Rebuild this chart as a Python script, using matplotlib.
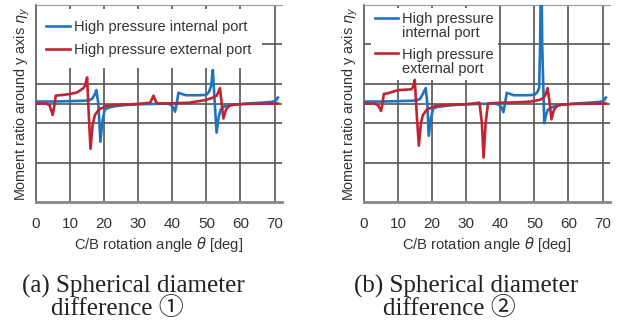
"""Moment ratio around y axis vs. C/B rotation angle, two spherical diameter differences."""

import matplotlib

matplotlib.use("Agg")
import matplotlib.pyplot as plt
from matplotlib.lines import Line2D

# (a) spherical diameter difference 1
a_int_x = [0, 5, 10, 14, 15.5, 16.5, 17.2, 17.7, 18.3, 18.9, 19.5, 20.2, 21.5, 23, 26, 30, 35,
           38.5, 39.5, 40.3, 40.8, 41.3, 41.8, 44, 48, 50, 50.8, 51.4, 51.9, 52.4, 53.0, 53.6,
           54.2, 55.1, 56.5, 58, 62, 66, 69, 70.3, 71]
a_int_y = [0.05, 0.05, 0.06, 0.07, 0.08, 0.12, 0.22, 0.34, 0.0, -0.97, -0.45, -0.15, -0.1,
           -0.07, -0.04, -0.02, -0.01, 0.0, -0.03, -0.1, -0.21, 0.0, 0.27, 0.21, 0.21, 0.22,
           0.3, 0.45, 0.85, 0.1, -0.74, -0.35, -0.15, -0.08, -0.05, -0.03, 0.0, 0.02, 0.04,
           0.06, 0.15]
a_ext_x = [0, 3, 4, 4.9, 5.4, 5.8, 7, 10, 12, 13.8, 14.4, 15.0, 15.5, 16.0, 16.6, 17.3, 18.5,
           20.7, 23, 26, 30, 33.5, 34.5, 35.2, 35.7, 38, 45, 49.9, 51.9, 53.0, 53.5, 54.0,
           54.5, 55.0, 55.8, 56.7, 58, 62, 71]
a_ext_y = [0.0, 0.0, -0.05, -0.29, -0.05, 0.2, 0.21, 0.24, 0.28, 0.38, 0.45, 0.66, -0.3,
           -1.15, -0.55, -0.29, -0.15, -0.06, -0.04, -0.03, -0.01, 0.02, 0.2, 0.05, 0.0, 0.0,
           0.02, 0.09, 0.15, 0.2, 0.28, 0.39, 0.0, -0.38, -0.15, -0.06, -0.03, -0.01, 0.0]

# (b) spherical diameter difference 2
b_int_x = [0, 5, 10, 14, 15.5, 16.5, 17.3, 18.1, 18.6, 19.0, 19.6, 20.3, 21.5, 23, 26, 30, 35,
           38.5, 39.5, 40.4, 40.9, 41.4, 41.9, 44, 48, 50, 50.8, 51.4, 51.7, 52.0, 52.3, 52.9,
           53.4, 53.9, 55, 56.3, 58, 62, 66, 69, 70.3, 71]
b_int_y = [0.05, 0.05, 0.06, 0.07, 0.08, 0.12, 0.25, 0.39, 0.0, -0.82, -0.4, -0.12, -0.09,
           -0.07, -0.04, -0.02, -0.01, 0.0, -0.03, -0.1, -0.22, 0.0, 0.27, 0.21, 0.21, 0.22,
           0.28, 0.39, 1.5, 4.0, 1.5, -0.5, -0.3, -0.17, -0.1, -0.06, -0.03, 0.0, 0.02, 0.04,
           0.06, 0.15]
b_ext_x = [0, 3, 4.2, 5.0, 5.4, 5.8, 7, 10, 12, 13.9, 14.4, 14.9, 15.5, 16.1, 16.7, 17.3,
           18.5, 21.1, 24, 27, 30, 33.9, 34.6, 35.1, 35.7, 36.4, 40, 45, 49, 51.5, 52.8, 53.4,
           53.9, 54.5, 55.0, 55.8, 56.7, 58, 62, 71]
b_ext_y = [0.0, 0.0, -0.05, -0.19, -0.02, 0.24, 0.26, 0.34, 0.35, 0.36, 0.42, 0.6, -0.3,
           -1.07, -0.5, -0.29, -0.15, -0.06, -0.04, -0.03, -0.02, 0.02, -0.5, -1.37, -0.5,
           0.0, 0.02, 0.03, 0.05, 0.09, 0.15, 0.25, 0.39, 0.0, -0.4, -0.15, -0.06, -0.03,
           -0.01, 0.0]

x_ticks = [0, 10, 20, 30, 40, 50, 60, 70]
grid_y = [-1.5, -0.5, 0.0, 0.5, 1.5]
caption_l1 = ["(a) Spherical diameter", "(b) Spherical diameter"]
caption_l2 = ["difference \u2460", "difference \u2461"]
labels_a = ["High pressure internal port", "High pressure external port"]
labels_b_int = ["High pressure", "internal port"]
labels_b_ext = ["High pressure", "external port"]

BLUE = "#1f74c0"
RED = "#bf2430"
TEXT = "#333333"

plt.rcParams["font.family"] = ["Liberation Sans", "DejaVu Sans"]
plt.rcParams["mathtext.fontset"] = "dejavusans"

fig = plt.figure(figsize=(6.19, 3.29), dpi=100)
ax_a = fig.add_axes([36 / 619, 127 / 329, 246 / 619, 197 / 329])
ax_b = fig.add_axes([364 / 619, 127 / 329, 246 / 619, 197 / 329])

panels = [
    (ax_a, a_int_x, a_int_y, a_ext_x, a_ext_y),
    (ax_b, b_int_x, b_int_y, b_ext_x, b_ext_y),
]
for ax, ix, iy, ex, ey in panels:
    ax.plot(ix, iy, color=BLUE, lw=1.9, zorder=3)
    ax.plot(ex, ey, color=RED, lw=1.9, zorder=3)
    ax.set_xlim(0, 72.2)
    ax.set_ylim(-2.5, 2.5)
    for gx in x_ticks[1:]:
        ax.axvline(gx, color="#555555", lw=1.2, zorder=1)
    for gy in grid_y:
        ax.axhline(gy, color="#555555", lw=1.2, zorder=1)
    ax.set_xticks(x_ticks)
    ax.set_yticks([])
    ax.tick_params(axis="x", length=0, pad=11, labelsize=11, labelcolor=TEXT)
    ax.spines["right"].set_visible(False)
    ax.spines["top"].set_color("#999999")
    ax.spines["top"].set_linewidth(0.8)
    ax.spines["left"].set_color("#555555")
    ax.spines["left"].set_linewidth(1.2)
    ax.spines["bottom"].set_color("#888888")
    ax.spines["bottom"].set_linewidth(2.0)
    ax.set_xlabel(r"C/B rotation angle $\theta$ [deg]", fontsize=10.6, color=TEXT, labelpad=3)
    ax.set_ylabel(r"Moment ratio around y axis $\eta_y$", fontsize=10.4, color=TEXT,
                  labelpad=3)

blue_h = Line2D([], [], color=BLUE, lw=1.9)
red_h = Line2D([], [], color=RED, lw=1.9)
blank_h = Line2D([], [], color="none")

leg_style = dict(loc="upper left", fontsize=10.5, frameon=True, fancybox=False,
                 framealpha=1, edgecolor="none", handletextpad=0.28, borderaxespad=0)

leg_a = ax_a.legend([blue_h, red_h], labels_a, bbox_to_anchor=(-0.004, 0.981),
                    handlelength=1.65, labelspacing=0.64, borderpad=0.75, **leg_style)
leg_b1 = ax_b.legend([blue_h, blank_h], labels_b_int, bbox_to_anchor=(0.027, 0.987),
                     handlelength=1.6, labelspacing=0.0, borderpad=0.3, **leg_style)
ax_b.add_artist(leg_b1)
leg_b2 = ax_b.legend([red_h, blank_h], labels_b_ext, bbox_to_anchor=(0.027, 0.806),
                     handlelength=1.6, labelspacing=0.0, borderpad=0.3, **leg_style)
for leg in (leg_a, leg_b1, leg_b2):
    leg.set_zorder(2.2)
    for t in leg.get_texts():
        t.set_color(TEXT)

for i, cx in enumerate([22, 354]):
    fig.text(cx / 619, 1 - 293 / 329, caption_l1[i], ha="left", va="baseline",
             fontsize=18, family=["Liberation Serif", "Noto Sans CJK JP"], color="#222222")
    fig.text((cx + 29) / 619, 1 - 315 / 329, caption_l2[i], ha="left", va="baseline",
             fontsize=18, family=["Liberation Serif", "Noto Sans CJK JP"], color="#222222")

fig.savefig("out.png", dpi=100)
